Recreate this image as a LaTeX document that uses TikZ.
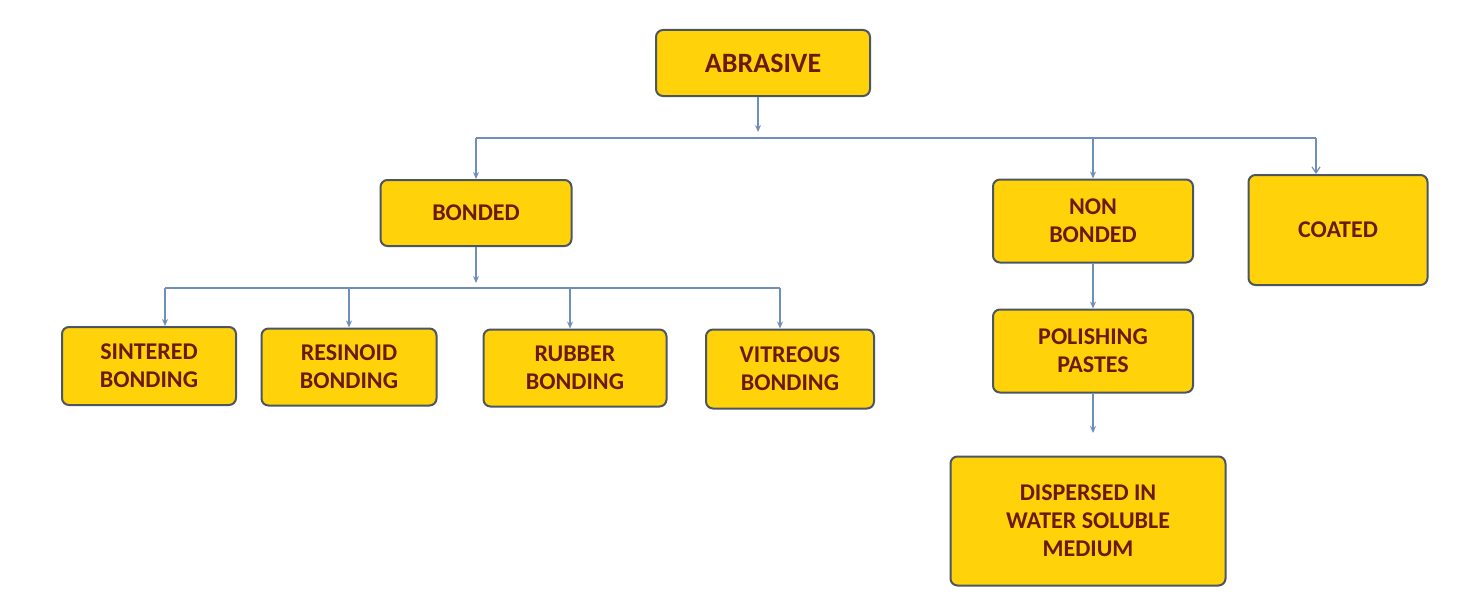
\documentclass[tikz,border=0pt]{standalone}
\usepackage{fontspec}
\setmainfont{Carlito}
\usetikzlibrary{arrows.meta}
\definecolor{boxfill}{HTML}{FFD20A}
\definecolor{boxdraw}{HTML}{4A5662}
\definecolor{txt}{HTML}{6B1A0A}
\definecolor{ln}{HTML}{6F8FBA}
\begin{document}
\begin{tikzpicture}[x=1pt,y=-1pt,
  box/.style={draw=boxdraw,line width=2pt,fill=boxfill,rounded corners=7pt,text=txt,font=\bfseries\fontsize{24}{28}\selectfont,align=center,inner sep=0pt},
  con/.style={draw=ln,line width=1.2pt},
  arr/.style={con,-{Stealth[length=7pt,width=6pt]}}]
\useasboundingbox (0,0) rectangle (1467,610);
\node[box,minimum width=214,minimum height=66,font=\bfseries\fontsize{28}{32}\selectfont] (abr) at (763,63) {ABRASIVE};
\node[box,minimum width=191,minimum height=66] (bon) at (476,213) {BONDED};
\node[box,minimum width=200,minimum height=83] (non) at (1093,221) {NON\\BONDED};
\node[box,minimum width=179,minimum height=110] (coa) at (1338,230) {COATED};
\node[box,minimum width=174,minimum height=78] (sin) at (149,366) {SINTERED\\BONDING};
\node[box,minimum width=175,minimum height=77] (res) at (349,367) {RESINOID\\BONDING};
\node[box,minimum width=183,minimum height=77] (rub) at (575,368) {RUBBER\\BONDING};
\node[box,minimum width=168,minimum height=79] (vit) at (790,369) {VITREOUS\\BONDING};
\node[box,minimum width=200,minimum height=83] (pol) at (1093,351) {POLISHING\\PASTES};
\node[box,minimum width=275,minimum height=129] (dis) at (1088,521) {DISPERSED IN\\WATER SOLUBLE\\MEDIUM};
\coordinate (a1) at (758,132);
\coordinate (hl) at (476,138);
\coordinate (hr) at (1316,138);
\coordinate (hn) at (1093,138);
\coordinate (b1) at (476,283);
\coordinate (bl) at (165,288);
\coordinate (br) at (780,288);
\coordinate (br2) at (349,288);
\coordinate (br3) at (570,288);
\coordinate (d1) at (1093,433);
\draw[arr] (abr.south -| a1) -- (a1);
\draw[con] (hl) -- (hr);
\draw[arr] (hl) -- (bon.north);
\draw[arr] (hn) -- (non.north);
\draw[con,-{Straight Barb[length=6pt,width=8pt]}] (hr) -- (hr |- coa.north);
\draw[arr] (bon.south) -- (b1);
\draw[con] (bl |- 0,288) -- (br);
\draw[arr] (bl) -- (bl |- sin.north);
\draw[arr] (br2) -- (br2 |- res.north);
\draw[arr] (br3) -- (br3 |- rub.north);
\draw[arr] (br) -- (br |- vit.north);
\draw[arr] (non.south) -- (pol.north);
\draw[arr] (pol.south) -- (d1);
\end{tikzpicture}
\end{document}
